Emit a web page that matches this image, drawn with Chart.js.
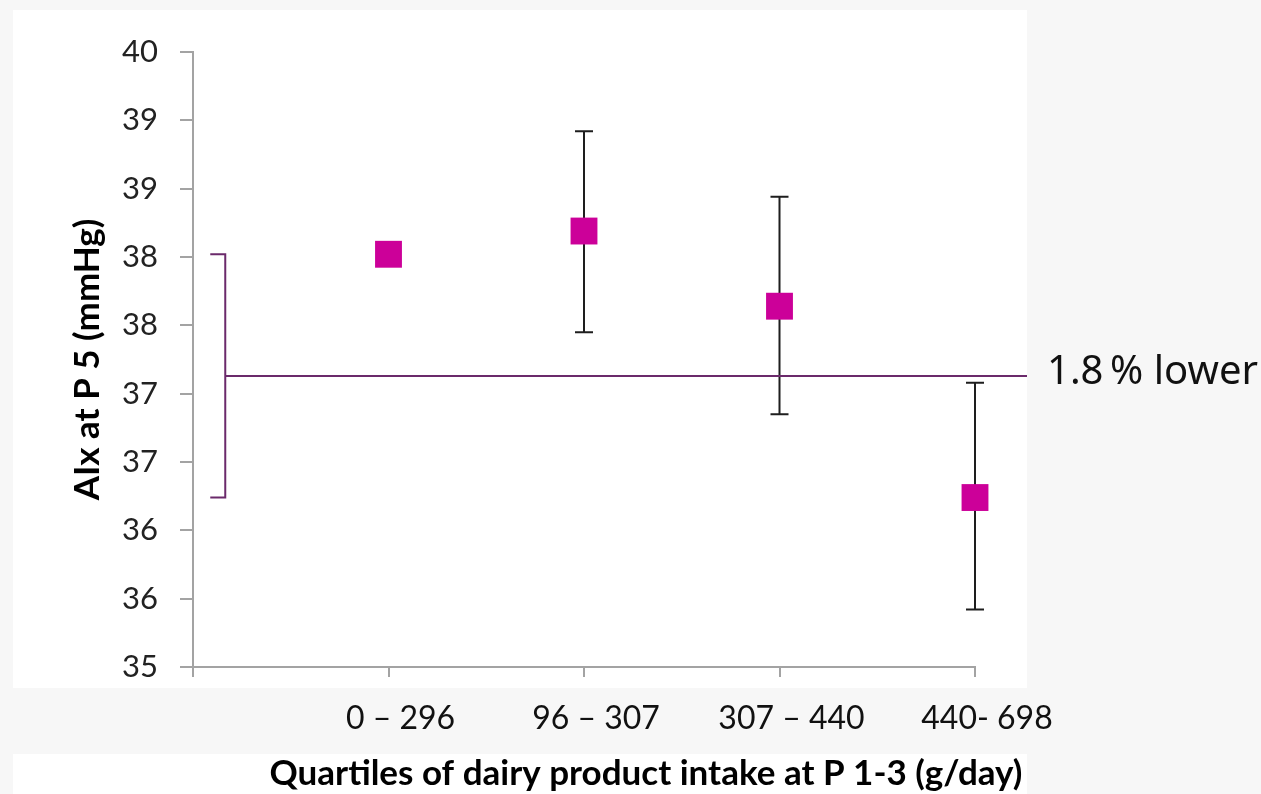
<!DOCTYPE html>
<html>
<head>
<meta charset="utf-8">
<script src="https://cdn.jsdelivr.net/npm/chart.js@4.4.1/dist/chart.umd.min.js"></script>
<style>
  html, body { margin: 0; padding: 0; background: #f7f7f7; }
  #wrap { position: relative; width: 1261px; height: 794px; }
</style>
</head>
<body>
<div id="wrap"><canvas id="c" width="1261" height="794"></canvas></div>
<script>
// Quartiles of dairy intake vs. AIx, means with error bars
var quartiles = ['0 – 296', '96 – 307', '307 – 440', '440- 698'];
var quartilePos = [1, 2, 3, 4];
var aixMean = [38.02, 38.19, 37.64, 36.24];
var aixLow = [null, 37.45, 36.85, 35.42];
var aixHigh = [null, 38.92, 38.44, 37.08];
var noteText = '1.8\u2009% lower';

var PINK = '#cc0099', PLUM = '#6b2a6b', AXIS = '#a3a3a3';

// white panels behind the plot and under the x title
var panels = {
  id: 'panels',
  beforeDraw: function (chart) {
    var ctx = chart.ctx;
    ctx.save();
    ctx.fillStyle = '#ffffff';
    ctx.fillRect(13, 10, 1014, 678);
    ctx.fillRect(13, 754, 1014, 40);
    ctx.restore();
  }
};

// error bars, plus the bracket between first and last quartile means
var extras = {
  id: 'extras',
  beforeDatasetsDraw: function (chart) {
    var ctx = chart.ctx, xs = chart.scales.x, ys = chart.scales.y;
    ctx.save();
    ctx.strokeStyle = '#1e1e1e';
    ctx.lineWidth = 2;
    quartilePos.forEach(function (p, i) {
      if (aixLow[i] == null) return;
      var x = xs.getPixelForValue(p);
      var y1 = ys.getPixelForValue(aixHigh[i]), y2 = ys.getPixelForValue(aixLow[i]);
      ctx.beginPath();
      ctx.moveTo(x, y1); ctx.lineTo(x, y2);
      ctx.moveTo(x - 9, y1); ctx.lineTo(x + 9, y1);
      ctx.moveTo(x - 9, y2); ctx.lineTo(x + 9, y2);
      ctx.stroke();
    });

    var first = aixMean[0], last = aixMean[aixMean.length - 1];
    var bx = xs.getPixelForValue(0.165);
    var top = ys.getPixelForValue(first), bot = ys.getPixelForValue(last);
    var mid = ys.getPixelForValue((first + last) / 2);
    ctx.strokeStyle = PLUM;
    ctx.lineWidth = 2;
    ctx.beginPath();
    ctx.moveTo(bx - 15, top); ctx.lineTo(bx, top); ctx.lineTo(bx, bot); ctx.lineTo(bx - 15, bot);
    ctx.moveTo(bx, mid); ctx.lineTo(1027, mid);
    ctx.stroke();

    ctx.fillStyle = '#111111';
    ctx.font = '40px "Noto Sans"';
    ctx.textAlign = 'left';
    ctx.textBaseline = 'middle';
    ctx.fillText(noteText, 1047, mid - 3);

    ctx.fillStyle = '#000000';
    ctx.font = 'bold 35px Lato';
    ctx.textAlign = 'center';
    ctx.fillText('Quartiles of dairy product intake at P 1-3 (g/day)', 646, 774);
    ctx.restore();
  }
};

new Chart(document.getElementById('c'), {
  type: 'scatter',
  data: {
    datasets: [{
      data: quartilePos.map(function (p, i) { return { x: p, y: aixMean[i] }; }),
      backgroundColor: PINK,
      borderColor: PINK,
      borderWidth: 0,
      pointStyle: 'rect',
      pointRadius: 19,
      pointHoverRadius: 19,
      clip: false
    }]
  },
  options: {
    responsive: false,
    animation: false,
    layout: { padding: { top: 52, right: 286, left: 0, bottom: 0 } },
    plugins: { legend: { display: false }, tooltip: { enabled: false } },
    scales: {
      x: {
        type: 'linear', min: 0, max: 4,
        afterFit: function (s) { s.height = 127; },
        border: { color: AXIS, width: 2 },
        grid: { drawOnChartArea: false, drawTicks: true, tickLength: 10, color: AXIS, lineWidth: 2 },
        ticks: {
          stepSize: 1, padding: 22, labelOffset: 12,
          color: '#111', font: { family: 'Lato', size: 32 },
          callback: function (v) { return v >= 1 ? quartiles[v - 1] : ''; }
        }
      },
      y: {
        min: 35, max: 39.5,
        afterFit: function (s) { s.width = 193; },
        border: { color: AXIS, width: 2 },
        grid: { drawOnChartArea: false, drawTicks: true, tickLength: 13, color: AXIS, lineWidth: 2 },
        ticks: {
          stepSize: 0.5, padding: 22,
          color: '#222', font: { family: 'Lato', size: 31 },
          callback: function (v) { return Math.round(v); }
        },
        title: {
          display: true, text: 'AIx at P 5 (mmHg)', color: '#000',
          font: { family: 'Lato', size: 35, weight: 'bold' },
          padding: { top: 67, bottom: 0 }
        }
      }
    }
  },
  plugins: [panels, extras]
});
</script>
</body>
</html>
